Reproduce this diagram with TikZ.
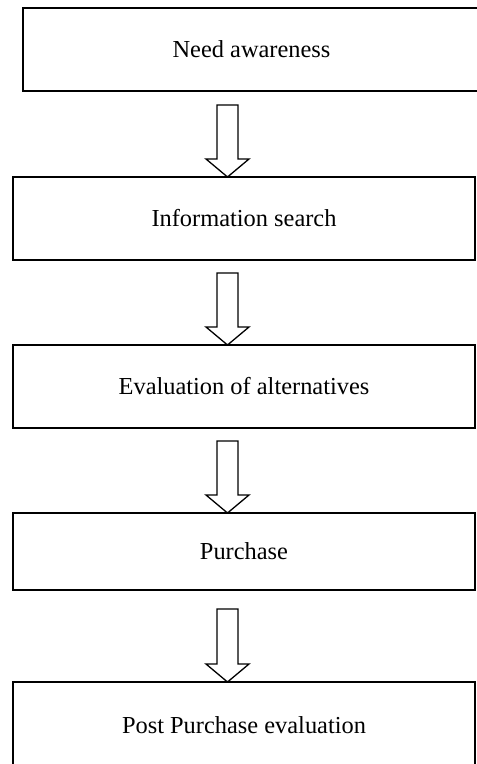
\documentclass[tikz,border=0pt]{standalone}
\usepackage{fontspec}
\setmainfont{Liberation Serif}
\usetikzlibrary{calc}
\tikzset{
  stagebox/.style={draw, line width=0.65pt, rectangle, inner sep=0pt, outer sep=0pt,
    minimum height=41.5pt, font=\fontsize{12.2}{14}\selectfont},
  hollowarrow/.style={draw, line width=0.65pt, line join=miter, fill=white}
}
\begin{document}
\begin{tikzpicture}[x=0.5pt,y=-0.5pt]
\useasboundingbox (0,0) rectangle (476,764);
\node[stagebox, minimum width=228.5pt] (need) at (251.5,49.5) {Need awareness};
\node[stagebox, minimum width=231pt] (info) at (244,218.5) {Information search};
\node[stagebox, minimum width=231pt] (eval) at (244,386.5) {Evaluation of alternatives};
\node[stagebox, minimum width=231pt, minimum height=38.5pt] (purch) at (244,551.5) {Purchase};
\node[stagebox, minimum width=231pt, minimum height=43pt] (post) at (244,725) {Post Purchase evaluation};
\coordinate (ax) at (227.5,0);
% block arrows between the stages
\foreach \a/\b/\g in {need/info/14, info/eval/13, eval/purch/13, purch/post/19}{
  \draw[hollowarrow] ($(\a.south -| ax)+(-10.5,\g)$) -- ($(\a.south -| ax)+(10.5,\g)$)
    -- ($(\b.north -| ax)+(10.5,-18)$) -- ($(\b.north -| ax)+(21.5,-18)$)
    -- (\b.north -| ax) -- ($(\b.north -| ax)+(-21.5,-18)$)
    -- ($(\b.north -| ax)+(-10.5,-18)$) -- cycle;
}
\end{tikzpicture}
\end{document}
